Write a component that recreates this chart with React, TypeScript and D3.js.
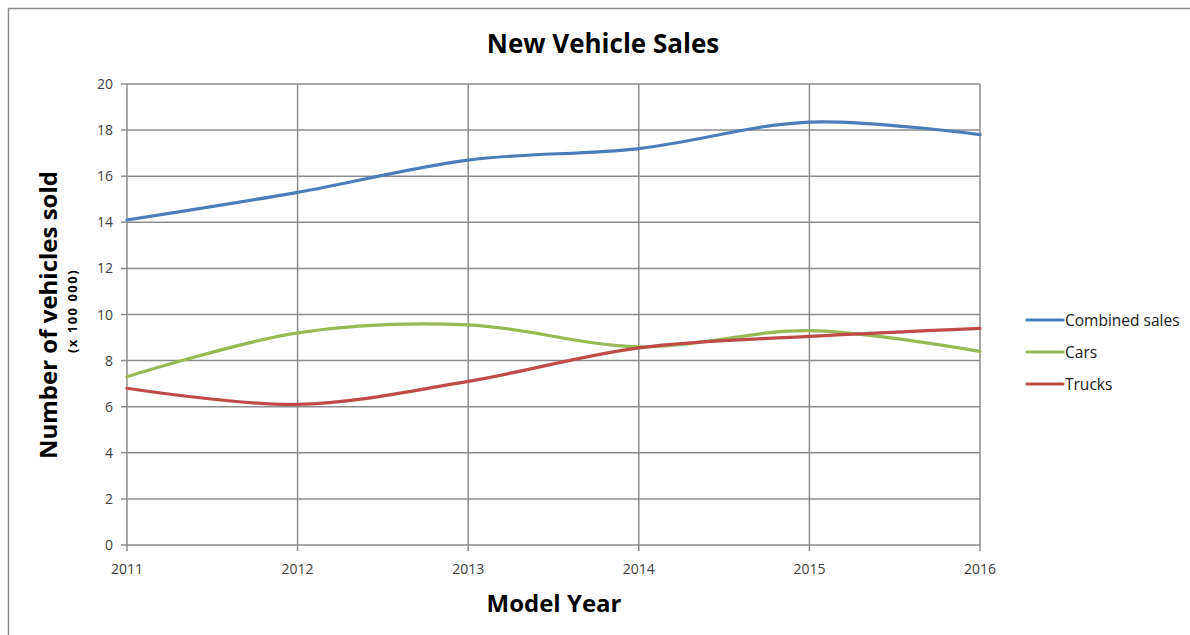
import React, { useEffect, useRef } from "react";
import * as d3 from "d3";

const years = [2011, 2012, 2013, 2014, 2015, 2016];
const combinedSales = [14.1, 15.3, 16.7, 17.2, 18.35, 17.8];
const cars = [7.3, 9.2, 9.55, 8.6, 9.3, 8.4];
const trucks = [6.8, 6.1, 7.1, 8.55, 9.05, 9.4];
const yTicks = [0, 2, 4, 6, 8, 10, 12, 14, 16, 18, 20];
const seriesNames = ["Combined sales", "Cars", "Trucks"];
const seriesColors = ["#4a7ebb", "#98b954", "#be4b48"];

const W = 1190;
const H = 635;
const FONT = "'Open Sans', 'Liberation Sans', sans-serif";

export default function App() {
  const ref = useRef<SVGSVGElement | null>(null);

  useEffect(() => {
    const svg = d3.select(ref.current);
    svg.selectAll("*").remove();

    const x = d3.scaleLinear().domain([2011, 2016]).range([127, 980]);
    const y = d3.scaleLinear().domain([0, 20]).range([545, 84]);

    // outer border
    svg.append("rect").attr("x", 8.5).attr("y", 8.5).attr("width", 1300).attr("height", 800)
      .attr("fill", "white").attr("stroke", "#8a8a8a").attr("stroke-width", 1.5);

    const grid = "#8c8c8c";
    yTicks.forEach((t) => {
      svg.append("line").attr("x1", x(2011) - 6).attr("x2", x(2016)).attr("y1", y(t)).attr("y2", y(t))
        .attr("stroke", grid).attr("stroke-width", 1.5);
      svg.append("text").attr("x", x(2011) - 14).attr("y", y(t)).attr("dy", "0.36em")
        .attr("text-anchor", "end").attr("font-family", FONT).attr("font-size", 14).attr("fill", "#404040")
        .text(String(t));
    });
    years.forEach((yr) => {
      svg.append("line").attr("x1", x(yr)).attr("x2", x(yr)).attr("y1", y(20)).attr("y2", y(0) + 6)
        .attr("stroke", grid).attr("stroke-width", 1.5);
      svg.append("text").attr("x", x(yr)).attr("y", y(0) + 29)
        .attr("text-anchor", "middle").attr("font-family", FONT).attr("font-size", 14).attr("fill", "#404040")
        .text(String(yr));
    });

    const line = d3.line<[number, number]>()
      .x((d) => x(d[0])).y((d) => y(d[1]))
      .curve(d3.curveCardinal.tension(0));

    [combinedSales, cars, trucks].forEach((vals, i) => {
      const pts: [number, number][] = years.map((yr, j) => [yr, vals[j]]);
      svg.append("path").attr("d", line(pts) as string).attr("fill", "none")
        .attr("stroke", seriesColors[i]).attr("stroke-width", 3.2).attr("stroke-linecap", "round");
    });

    svg.append("text").attr("x", 603).attr("y", 53).attr("text-anchor", "middle")
      .attr("font-family", FONT).attr("font-weight", "bold").attr("font-size", 26).attr("fill", "#000")
      .text("New Vehicle Sales");
    svg.append("text").attr("x", 554).attr("y", 612).attr("text-anchor", "middle")
      .attr("font-family", FONT).attr("font-weight", "bold").attr("font-size", 24).attr("fill", "#000")
      .text("Model Year");
    svg.append("text").attr("transform", "translate(57,315) rotate(-90)").attr("text-anchor", "middle")
      .attr("font-family", FONT).attr("font-weight", "bold").attr("font-size", 24).attr("fill", "#000")
      .text("Number of vehicles sold");
    svg.append("text").attr("transform", "translate(77,311) rotate(-90)").attr("text-anchor", "middle")
      .attr("font-family", FONT).attr("font-weight", "bold").attr("font-size", 13).attr("letter-spacing", 1.5)
      .attr("fill", "#000")
      .text("(x 100 000)");

    seriesNames.forEach((name, i) => {
      const ly = 320 + i * 32;
      svg.append("line").attr("x1", 1027).attr("x2", 1063).attr("y1", ly).attr("y2", ly)
        .attr("stroke", seriesColors[i]).attr("stroke-width", 3.2).attr("stroke-linecap", "round");
      svg.append("text").attr("x", 1065).attr("y", ly).attr("dy", "0.36em")
        .attr("font-family", FONT).attr("font-size", 15.5).attr("fill", "#202020").text(name);
    });
  }, []);

  return (
    <svg ref={ref} width={W} height={H}
      style={{ position: "absolute", left: 0, top: 0, background: "white" }} />
  );
}
